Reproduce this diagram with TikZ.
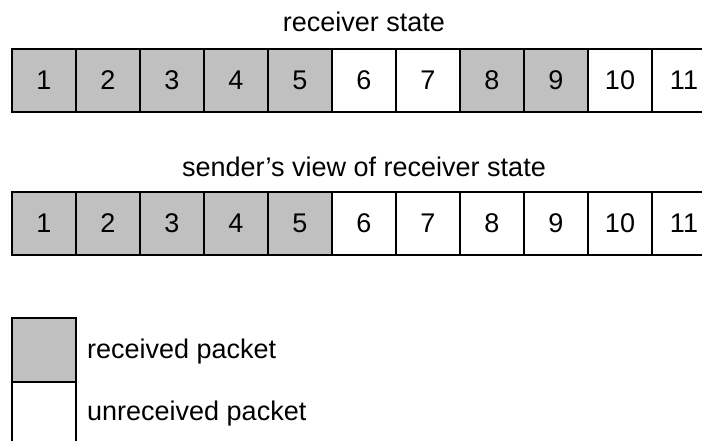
\documentclass[tikz,border=0pt]{standalone}
\usepackage{fontspec}
\setmainfont{Liberation Sans}
\definecolor{pktgray}{HTML}{C0C0C0}
\tikzset{
  pkt/.style={draw, line width=2pt, minimum width=64pt, minimum height=63pt,
    inner sep=0pt, outer sep=0pt, font=\fontsize{27}{32}\selectfont},
  got/.style={pkt, fill=pktgray},
  lbl/.style={font=\fontsize{27}{32}\selectfont, inner sep=0pt}
}
\begin{document}
\begin{tikzpicture}[x=1pt,y=-1pt]
\useasboundingbox (0,0) rectangle (702,441);
\clip (0,0) rectangle (702,441);

\node[lbl, anchor=base] (rtitle) at (364,32) {receiver state};
\node[got] (r1) at (44,80.5) {1};
\node[got] (r2) at (108,80.5) {2};
\node[got] (r3) at (172,80.5) {3};
\node[got] (r4) at (236,80.5) {4};
\node[got] (r5) at (300,80.5) {5};
\node[pkt] (r6) at (364,80.5) {6};
\node[pkt] (r7) at (428,80.5) {7};
\node[got] (r8) at (492,80.5) {8};
\node[got] (r9) at (556,80.5) {9};
\node[pkt] (r10) at (620,80.5) {10};
\node[pkt] (r11) at (684,80.5) {11};

\node[lbl, anchor=base] (stitle) at (364,177) {sender’s view of receiver state};
\node[got] (s1) at (44,223.5) {1};
\node[got] (s2) at (108,223.5) {2};
\node[got] (s3) at (172,223.5) {3};
\node[got] (s4) at (236,223.5) {4};
\node[got] (s5) at (300,223.5) {5};
\node[pkt] (s6) at (364,223.5) {6};
\node[pkt] (s7) at (428,223.5) {7};
\node[pkt] (s8) at (492,223.5) {8};
\node[pkt] (s9) at (556,223.5) {9};
\node[pkt] (s10) at (620,223.5) {10};
\node[pkt] (s11) at (684,223.5) {11};

\node[got, minimum height=64pt] (keygot) at (44,350) {};
\node[pkt, minimum height=64pt] (keynot) at (44,414) {};
\node[lbl, anchor=base west] (gottext) at (87,358) {received packet};
\node[lbl, anchor=base west] (nottext) at (87,420) {unreceived packet};
\end{tikzpicture}
\end{document}
